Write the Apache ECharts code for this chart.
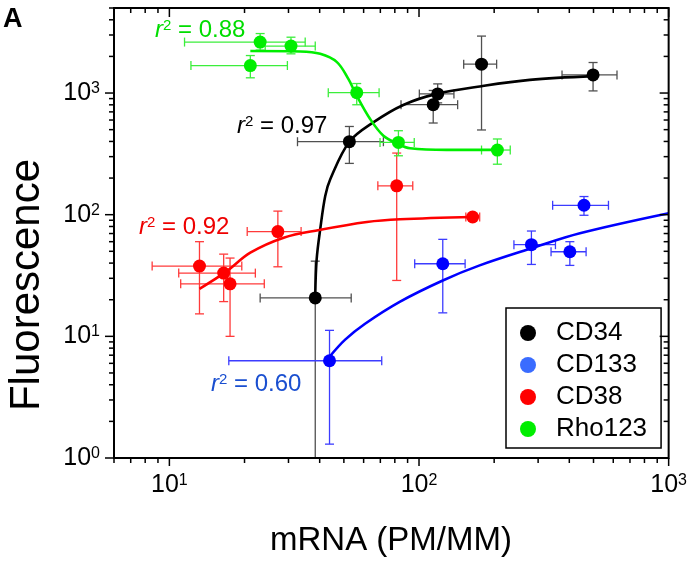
<!DOCTYPE html>
<html><head><meta charset="utf-8">
<script src="https://cdn.jsdelivr.net/npm/echarts@6/dist/echarts.min.js"></script>
<style>html,body{margin:0;padding:0;background:#fff;}#c{width:690px;height:565px;}</style>
</head><body><div id="c"></div>
<script>
// ---------- data ----------
const seriesNames = ['CD34', 'CD133', 'CD38', 'Rho123'];

const cd34X   = [38.4, 52.6, 118.8, 114, 178, 498];
const cd34Y   = [20.7, 398, 984, 802, 1727, 1410];
const cd34XLo = [23.1, 32.6, 100.3, 84.7, 151, 374];
const cd34XHi = [53.5, 72, 138, 142.8, 204.6, 621];
const cd34YLo = [0.3, 264, 830, 567, 497, 1041];
const cd34YHi = [41.5, 531, 1189, 1050, 2938, 1782];

const cd133X   = [43.8, 124.5, 282, 402, 458];
const cd133Y   = [6.3, 39.5, 56.7, 49.6, 119.5];
const cd133XLo = [17.3, 96.1, 240, 338, 343];
const cd133XHi = [70.9, 153, 352, 467, 574];
const cd133YLo = [1.3, 15.6, 39, 38.3, 98.9];
const cd133YHi = [11.2, 62.7, 73.4, 60, 141];

const cd38X   = [13.2, 16.5, 17.5, 27.2, 81.4, 164];
const cd38Y   = [37.8, 33.1, 27.0, 72.6, 172.6, 95.7];
const cd38XLo = [8.53, 10.9, 11.1, 20.5, 68.4, 154];
const cd38XHi = [19.5, 22.1, 24, 33.7, 94.4, 175];
const cd38YLo = [15.3, 19.3, 10.0, 37.3, 28.8, 92];
const cd38YHi = [60, 47.4, 44, 107, 321, 99];

const rhoX   = [23.1, 30.7, 21.1, 56.3, 82.7, 206];
const rhoY   = [2624, 2432, 1683, 1007, 393, 340];
const rhoXLo = [11.5, 24.2, 12.2, 43.3, 69.8, 178];
const rhoXHi = [35.0, 38.4, 29.7, 69.2, 95.7, 232];
const rhoYLo = [2255, 2100, 1334, 801, 305, 260];
const rhoYHi = [3083, 2877, 2033, 1197, 490, 419];

// fitted curves, points
const cd34FitX = [38.4, 38.9, 40.2, 42.1, 44.1, 52.6, 65.6, 86.5, 117.7, 178, 278, 498];
const cd34FitY = [22.1, 42.9, 75.9, 142.6, 195.8, 398, 574, 798, 984, 1138, 1282, 1377];
const cd133FitX = [43.8, 50.6, 60.8, 84, 124.5, 175, 282, 441, 1000];
const cd133FitY = [6.8, 9.4, 12.7, 19.3, 28.8, 38.3, 52.9, 70.3, 102.7];
const cd38FitX = [13.2, 17, 21.1, 28.7, 39.8, 61.8, 84, 164];
const cd38FitY = [24.6, 34.4, 48.7, 64.7, 74.8, 87.1, 91.7, 95.7];
const rhoFitX = [21.1, 33.4, 40.2, 46.9, 52.1, 56.3, 63.7, 72, 82.7, 92, 129, 205];
const rhoFitY = [2213, 2195, 2100, 1794, 1306, 952, 612, 446, 380, 352, 341, 341];

const r2Labels = ['0.97', '0.60', '0.92', '0.88'];

// axis ticks
const xMajorTicks = [10, 100, 1000];
const xMinorTicks = [6, 7, 8, 9, 20, 30, 40, 50, 60, 70, 80, 90, 200, 300, 400, 500, 600, 700, 800, 900];
const yMajorTicks = [1, 10, 100, 1000];
const yMinorTicks = [2, 3, 4, 5, 6, 7, 8, 9, 20, 30, 40, 50, 60, 70, 80, 90, 200, 300, 400, 500, 600, 700, 800, 900, 2000, 3000, 4000, 5000];
const xMin = 6, xMax = 1000, yMin = 1, yMax = 5000;

// ---------- styling ----------
const FONT = '"Liberation Sans", Arial, sans-serif';
const pointColors = ['#000000', '#0000ff', '#ff0000', '#00ee00'];
const legendColors = ['#000000', '#3a6cff', '#ff0000', '#00ee00'];
const barColors = ['#505050', '#3c3cff', '#ff3a3a', '#3bee3b'];
const labelColors = ['#000000', '#1a4fd0', '#ee0000', '#00dd00'];

const zip = (...arrs) => arrs[0].map((_, i) => arrs.map(a => a[i]));

const groups = [
  {x: cd34X, y: cd34Y, xl: cd34XLo, xh: cd34XHi, yl: cd34YLo, yh: cd34YHi, fx: cd34FitX, fy: cd34FitY},
  {x: cd133X, y: cd133Y, xl: cd133XLo, xh: cd133XHi, yl: cd133YLo, yh: cd133YHi, fx: cd133FitX, fy: cd133FitY},
  {x: cd38X, y: cd38Y, xl: cd38XLo, xh: cd38XHi, yl: cd38YLo, yh: cd38YHi, fx: cd38FitX, fy: cd38FitY},
  {x: rhoX, y: rhoY, xl: rhoXLo, xh: rhoXHi, yl: rhoYLo, yh: rhoYHi, fx: rhoFitX, fy: rhoFitY}
];

function errRender(color) {
  return function (params, api) {
    const cs = params.coordSys;
    const x = api.value(0), y = api.value(1);
    const c = api.coord([x, y]);
    const pl = api.coord([api.value(2), y]);
    const pr = api.coord([api.value(3), y]);
    const pt = api.coord([x, api.value(5)]);
    const pb = api.coord([x, api.value(4)]);
    const bottom = cs.y + cs.height;
    const cap = 4.5;
    const st = {stroke: color, lineWidth: 1.3, fill: null};
    const L = (x1, y1, x2, y2) => ({type: 'line', shape: {x1, y1, x2, y2}, style: st});
    const ch = [];
    ch.push(L(pl[0], c[1], pr[0], c[1]));
    ch.push(L(pl[0], c[1] - cap, pl[0], c[1] + cap));
    ch.push(L(pr[0], c[1] - cap, pr[0], c[1] + cap));
    let by = pb[1], bcap = true;
    if (!(by <= bottom)) { by = bottom; bcap = false; }
    ch.push(L(c[0], pt[1], c[0], by));
    ch.push(L(c[0] - cap, pt[1], c[0] + cap, pt[1]));
    if (bcap) ch.push(L(c[0] - cap, by, c[0] + cap, by));
    return {type: 'group', children: ch};
  };
}

const tickStyle = {stroke: '#000', lineWidth: 1.5};
function xTickRender(params, api) {
  const cs = params.coordSys;
  const v = api.value(0);
  const p = api.coord([v, yMin]);
  const major = xMajorTicks.indexOf(v) >= 0;
  const Lb = major ? 8 : 5, Lt = major ? 9 : 5;
  const b = cs.y + cs.height, t = cs.y;
  return {type: 'group', children: [
    {type: 'line', shape: {x1: p[0], y1: b, x2: p[0], y2: b + Lb}, style: tickStyle},
    {type: 'line', shape: {x1: p[0], y1: t, x2: p[0], y2: t + Lt}, style: tickStyle}
  ]};
}
function yTickRender(params, api) {
  const cs = params.coordSys;
  const v = api.value(1);
  const p = api.coord([xMin, v]);
  const major = yMajorTicks.indexOf(v) >= 0;
  const L = major ? 9 : 5;
  const l = cs.x, r = cs.x + cs.width;
  return {type: 'group', children: [
    {type: 'line', shape: {x1: l - L, y1: p[1], x2: l, y2: p[1]}, style: tickStyle},
    {type: 'line', shape: {x1: r - L, y1: p[1], x2: r, y2: p[1]}, style: tickStyle}
  ]};
}

function powLabel(v) {
  const lg = Math.log10(v);
  const e = Math.round(lg);
  if (Math.abs(lg - e) > 1e-6) return '';
  return '{b|10}{s|' + e + '}';
}
const labelRich = {
  b: {fontSize: 25, fontFamily: FONT, color: '#000'},
  s: {fontSize: 16, fontFamily: FONT, color: '#000', verticalAlign: 'top'}
};

const series = [];
groups.forEach((g, i) => {
  series.push({
    type: 'custom', name: seriesNames[i] + ' err', z: 2, silent: true,
    renderItem: errRender(barColors[i]),
    data: zip(g.x, g.y, g.xl, g.xh, g.yl, g.yh)
  });
});
groups.forEach((g, i) => {
  series.push({
    type: 'line', name: seriesNames[i] + ' fit', z: 3, silent: true,
    smooth: 0.35, showSymbol: false, symbol: 'none',
    lineStyle: {color: pointColors[i], width: 2.6},
    data: zip(g.fx, g.fy)
  });
});
groups.forEach((g, i) => {
  series.push({
    type: 'scatter', name: seriesNames[i], z: 4,
    symbol: 'circle', symbolSize: 13,
    itemStyle: {color: pointColors[i], opacity: 1},
    data: zip(g.x, g.y)
  });
});
series.push({
  type: 'custom', name: 'xticks', silent: true, z: 5, clip: false,
  renderItem: xTickRender,
  data: xMajorTicks.concat(xMinorTicks).map(v => [v, yMin])
});
series.push({
  type: 'custom', name: 'yticks', silent: true, z: 5, clip: false,
  renderItem: yTickRender,
  data: yMajorTicks.concat(yMinorTicks).map(v => [xMin, v])
});

function r2Text(val) { return '{i|r}{s|2}{n| = ' + val + '}'; }
function r2Rich(color) {
  return {
    i: {fontSize: 24, fontStyle: 'italic', fontFamily: FONT, fill: color},
    s: {fontSize: 15, fontFamily: FONT, fill: color, verticalAlign: 'top'},
    n: {fontSize: 24, fontFamily: FONT, fill: color}
  };
}
// label anchor positions (pixels), index matches seriesNames
const r2Pos = [[237, 126], [211, 384], [139, 227], [155, 30]];

const graphics = [
  {type: 'text', left: 3, top: 6, style: {text: 'A', font: 'bold 27px ' + FONT, fill: '#000'}},
  {type: 'text', x: 391, y: 541, style: {text: 'mRNA (PM/MM)', font: '33px ' + FONT, fill: '#000', align: 'center', verticalAlign: 'middle'}},
  {type: 'text', x: 27, y: 285, rotation: Math.PI / 2, style: {text: 'Fluorescence', font: '42px ' + FONT, fill: '#000', align: 'center', verticalAlign: 'middle'}}
];
r2Labels.forEach((v, i) => {
  graphics.push({type: 'text', x: r2Pos[i][0], y: r2Pos[i][1], z: 10,
    style: {text: r2Text(v), rich: r2Rich(labelColors[i]), fill: labelColors[i], align: 'left', verticalAlign: 'middle'}});
});

const chart = echarts.init(document.getElementById('c'), null, {renderer: 'canvas'});
chart.setOption({
  animation: false,
  backgroundColor: '#fff',
  textStyle: {fontFamily: FONT},
  grid: {left: 114, top: 8, width: 555, height: 450, show: true, borderColor: '#000', borderWidth: 2, backgroundColor: 'transparent', z: 6},
  xAxis: {
    type: 'log', logBase: 10, min: xMin, max: xMax,
    axisLine: {show: false}, axisTick: {show: false}, splitLine: {show: false}, minorTick: {show: false},
    axisLabel: {formatter: powLabel, rich: labelRich, margin: 15, showMinLabel: true, showMaxLabel: true}
  },
  yAxis: {
    type: 'log', logBase: 10, min: yMin, max: yMax,
    axisLine: {show: false}, axisTick: {show: false}, splitLine: {show: false}, minorTick: {show: false},
    axisLabel: {formatter: powLabel, rich: labelRich, margin: 14, showMinLabel: true, showMaxLabel: true}
  },
  legend: {
    orient: 'vertical', left: 506, top: 308,
    padding: [12, 14, 6, 14], itemGap: 6, itemWidth: 30, itemHeight: 16,
    icon: 'circle', borderColor: '#000', borderWidth: 1.5, backgroundColor: '#fff',
    selectedMode: false,
    textStyle: {fontSize: 26, fontFamily: FONT, color: '#000', padding: [0, 0, 0, 8]},
    data: seriesNames.map((n, i) => ({name: n, itemStyle: {color: legendColors[i]}}))
  },
  graphic: graphics,
  series: series
});
</script></body></html>
